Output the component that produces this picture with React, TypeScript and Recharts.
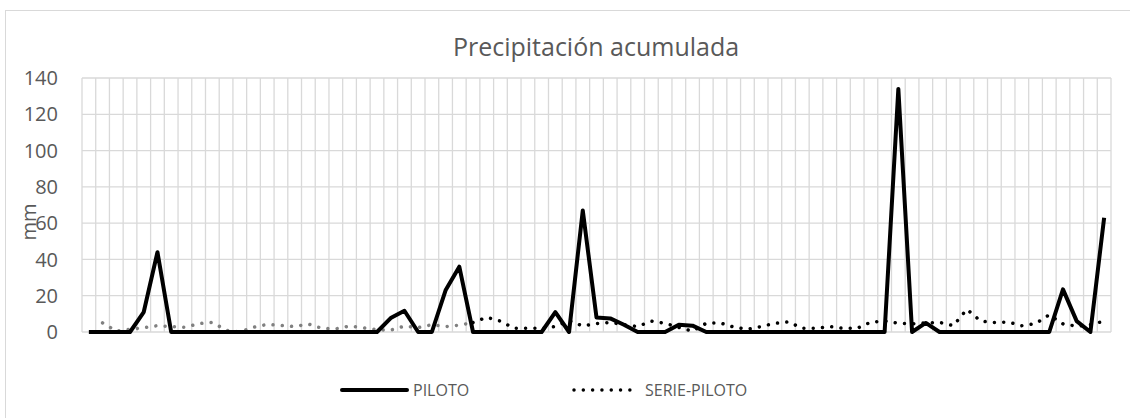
import { LineChart, Line, XAxis, YAxis, CartesianGrid } from "recharts";

// 75 daily categories (no labels shown on the axis)
const CATEGORIES = Array.from({ length: 75 }, (_, i) => i + 1);

const PILOTO = [
  0, 0, 0, 0, 11, 44, 0, 0, 0, 0,
  0, 0, 0, 0, 0, 0, 0, 0, 0, 0,
  0, 0, 7.7, 11.7, 0, 0, 23, 36, 0, 0,
  0, 0, 0, 0, 11, 0, 67, 8, 7.5, 4,
  0, 0, 0, 4, 3.5, 0, 0, 0, 0, 0,
  0, 0, 0, 0, 0, 0, 0, 0, 0, 134,
  0, 5, 0, 0, 0, 0, 0, 0, 0, 0,
  0, 23.5, 6, 0, 63,
];

const SERIE_PILOTO = [
  null, 5, 0.5, 1.5, 2.4, 3.5, 3, 2.6, 4.6, 5.3,
  1, 0, 2.6, 4.2, 3.6, 3, 4.4, 2, 1.7, 3.3,
  2.3, 1.3, 1, 3.3, 2.4, 4, 3, 3.8, 5.2, 8.1,
  6, 2, 2, 2, 3, 6.2, 3.3, 4.7, 5.3, 4,
  3, 6, 4.8, 2.5, 0.5, 4.8, 5.1, 2.7, 1.5, 3,
  4.8, 5.6, 2, 2, 3, 2, 2, 5.5, 6, 4.8,
  4.5, 5, 5.3, 3.5, 12.5, 6, 5.3, 5.5, 3.5, 4.6,
  9.5, 4.5, 3.2, 4, 6,
];

// the first stretch of SERIE-PILOTO is drawn in gray
const GRAY_UNTIL = 28;

const Y_TICKS = [0, 20, 40, 60, 80, 100, 120, 140];

const rows = CATEGORIES.map((c, i) => ({
  x: c,
  piloto: PILOTO[i],
  serieGray: i <= GRAY_UNTIL ? SERIE_PILOTO[i] : null,
  serieBlack: i >= GRAY_UNTIL ? SERIE_PILOTO[i] : null,
}));

// grid lines sit between categories
const X_BOUNDS = [CATEGORIES[0] - 0.5, ...CATEGORIES.map((c) => c + 0.5)];
const X_MIN = X_BOUNDS[0];
const X_MAX = X_BOUNDS[X_BOUNDS.length - 1];

const FONT = "'Open Sans', sans-serif";
const TEXT = "#595959";
const GRID = "#d9d9d9";

// vertical grid at category boundaries, mapped through the plot area
const boundaryLines = ({ offset }: any) =>
  X_BOUNDS.map((v) => offset.left + ((v - X_MIN) / (X_MAX - X_MIN)) * offset.width);

export default function App() {
  return (
    <div
      style={{
        position: "absolute",
        left: 0,
        top: 0,
        width: 1130,
        height: 418,
        background: "#fff",
        overflow: "hidden",
        fontFamily: FONT,
      }}
    >
      <div
        style={{
          position: "absolute",
          left: 5,
          top: 10,
          width: 1200,
          height: 500,
          borderLeft: `1px solid ${GRID}`,
          borderTop: `1px solid ${GRID}`,
        }}
      />
      <div
        style={{
          position: "absolute",
          left: 296,
          top: 34,
          width: 600,
          textAlign: "center",
          fontSize: 25,
          lineHeight: "25px",
          color: TEXT,
        }}
      >
        Precipitación acumulada
      </div>
      <div
        style={{
          position: "absolute",
          left: 29 - 30,
          top: 222 - 12,
          width: 60,
          height: 24,
          lineHeight: "24px",
          textAlign: "center",
          fontSize: 20,
          color: TEXT,
          transform: "rotate(-90deg)",
        }}
      >
        mm
      </div>

      <div style={{ position: "absolute", left: 0, top: 0 }}>
        <LineChart
          width={1130}
          height={418}
          data={rows}
          margin={{ top: 78, right: 19, bottom: 86, left: 22 }}
        >
          <CartesianGrid
            stroke={GRID}
            strokeWidth={1.3}
            verticalCoordinatesGenerator={boundaryLines}
          />
          <XAxis
            type="number"
            dataKey="x"
            domain={[X_MIN, X_MAX]}
            ticks={X_BOUNDS}
            tick={false}
            tickLine={false}
            axisLine={{ stroke: GRID, strokeWidth: 1.3 }}
            height={0}
          />
          <YAxis
            domain={[0, 140]}
            ticks={Y_TICKS}
            width={60}
            axisLine={false}
            tickLine={false}
            tickSize={0}
            tickMargin={24}
            tick={{ fill: TEXT, fontSize: 20, fontFamily: FONT }}
          />
          <Line
            type="linear"
            dataKey="serieGray"
            stroke="#808080"
            strokeWidth={3.5}
            strokeDasharray="0.01 9.3"
            strokeLinecap="round"
            dot={false}
            activeDot={false}
            legendType="none"
            isAnimationActive={false}
          />
          <Line
            type="linear"
            dataKey="serieBlack"
            name="SERIE-PILOTO"
            stroke="#000"
            strokeWidth={3.5}
            strokeDasharray="0.01 9.3"
            strokeLinecap="round"
            dot={false}
            activeDot={false}
            isAnimationActive={false}
          />
          <Line
            type="linear"
            dataKey="piloto"
            name="PILOTO"
            stroke="#000"
            strokeWidth={4}
            strokeLinejoin="round"
            dot={false}
            activeDot={false}
            isAnimationActive={false}
          />
        </LineChart>
      </div>

      <svg style={{ position: "absolute", left: 0, top: 375 }} width={1130} height={30}>
        <line x1={342} y1={15} x2={407} y2={15} stroke="#000" strokeWidth={4} strokeLinecap="round" />
        <line
          x1={574}
          y1={15}
          x2={631}
          y2={15}
          stroke="#000"
          strokeWidth={3.5}
          strokeDasharray="0.01 9.3"
          strokeLinecap="round"
        />
      </svg>
      <div style={{ position: "absolute", left: 413, top: 378, fontSize: 16, lineHeight: "24px", color: TEXT }}>
        PILOTO
      </div>
      <div style={{ position: "absolute", left: 645, top: 378, fontSize: 16, lineHeight: "24px", color: TEXT }}>
        SERIE-PILOTO
      </div>
    </div>
  );
}
